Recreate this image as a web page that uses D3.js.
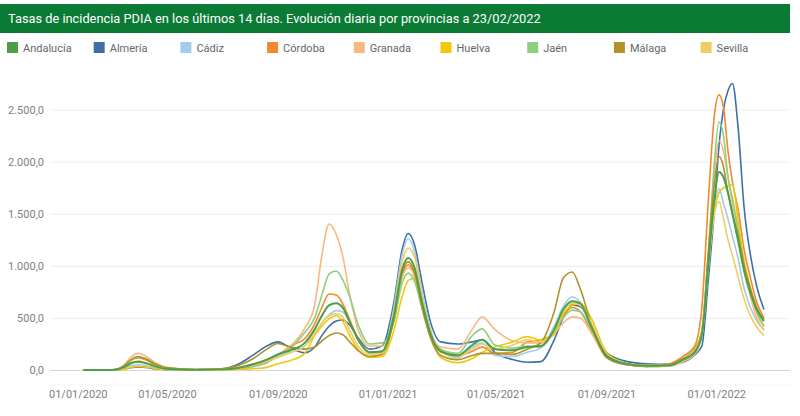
<!DOCTYPE html>
<html>
<head>
<meta charset="utf-8">
<script src="https://cdn.jsdelivr.net/npm/d3@7"></script>
<style>
  body { margin: 0; background: #fff; }
  svg text { font-family: Roboto, "Open Sans", sans-serif; }
</style>
</head>
<body>
<div id="chart"></div>
<script>
"use strict";

// sample dates
const dates = [
  "2020-01-29","2020-03-01","2020-03-15","2020-03-22","2020-03-30","2020-04-08","2020-04-18","2020-05-01","2020-06-01","2020-07-01",
  "2020-07-20","2020-08-05","2020-08-20","2020-09-01","2020-09-15","2020-10-01","2020-10-12","2020-10-20","2020-10-28","2020-11-05",
  "2020-11-12","2020-11-20","2020-11-30","2020-12-12","2020-12-26","2021-01-08","2021-01-17","2021-01-24","2021-01-31","2021-02-08",
  "2021-02-18","2021-03-01","2021-03-20","2021-04-05","2021-04-16","2021-04-30","2021-05-20","2021-06-05","2021-06-20","2021-07-05",
  "2021-07-15","2021-07-25","2021-08-03","2021-08-15","2021-09-01","2021-09-20","2021-10-15","2021-11-10","2021-11-25","2021-12-08",
  "2021-12-16","2021-12-23","2021-12-30","2022-01-04","2022-01-09","2022-01-14","2022-01-19","2022-01-25","2022-02-01","2022-02-08",
  "2022-02-15","2022-02-23"
];

const provinces = ["Andalucía", "Almería", "Cádiz", "Córdoba", "Granada", "Huelva", "Jaén", "Málaga", "Sevilla"];

const andalucia = [0,1,30,65,80,65,35,12,3,6, 22,55,100,150,190,260,390,520,620,640, 600,460,280,170,180,520,960,1075,980,660,
  340,180,140,240,290,200,190,220,230,390, 580,660,640,420,140,65,40,45,100,170, 340,1000,1650,1900,1850,1700,1500,1250,950,740, 580,470];
const almeria = [0,1,10,22,30,25,12,4,2,12, 60,145,230,270,215,165,220,330,420,470, 480,430,300,200,230,650,1150,1310,1200,850,
  450,270,250,270,290,170,100,75,80,290, 500,625,610,440,170,90,60,55,75,145, 230,850,1550,2150,2500,2680,2750,2350,1550,1100, 800,580];
const cadiz = [0,1,15,40,50,40,20,6,2,4, 12,30,70,130,170,230,340,450,530,570, 560,460,280,160,170,600,1100,1260,1130,760,
  380,180,120,220,260,140,130,170,210,420, 610,700,650,400,120,55,35,40,90,180, 330,950,1550,1740,1600,1450,1280,1080,780,600, 470,390];
const cordoba = [0,1,40,95,115,95,50,18,3,6, 15,40,75,140,230,300,440,600,730,720, 640,480,280,170,170,480,900,1010,900,600,
  310,170,140,180,220,160,170,270,290,350, 520,600,560,380,130,60,40,60,130,230, 600,1600,2450,2640,2520,2100,1800,1550,1150,880, 650,500];
const granada = [0,1,55,125,160,130,70,25,4,8, 25,60,100,150,230,400,620,1100,1400,1300, 1100,720,370,230,230,480,880,980,900,620,
  340,220,200,390,510,390,280,260,260,350, 450,510,500,360,120,55,35,40,80,150, 330,1100,1900,2200,2100,1850,1600,1350,950,700, 500,380];
const huelva = [0,1,10,25,35,28,15,5,2,3, 6,12,25,60,90,160,330,420,490,520, 470,330,190,120,130,380,700,860,880,650,
  320,120,70,110,170,220,270,320,290,340, 540,620,640,500,170,70,45,45,100,200, 360,1000,1550,1700,1750,1760,1780,1450,1050,780, 550,420];
const jaen = [0,1,40,90,125,105,60,20,3,5, 15,40,80,140,210,360,500,720,920,950, 870,700,420,250,260,460,830,930,850,600,
  330,200,160,330,395,240,210,230,220,370, 500,575,560,400,130,60,35,40,90,170, 330,1100,2000,2380,2250,1850,1650,1350,1000,750, 560,420];
const malaga = [0,1,45,100,130,105,55,20,4,12, 45,110,200,255,220,200,220,280,330,355, 340,270,180,130,150,500,930,1040,930,620,
  300,140,100,140,160,160,150,200,260,560, 880,940,780,450,120,55,35,50,110,200, 380,1100,1800,2050,1950,1700,1500,1300,1000,780, 600,480];
const sevilla = [0,1,30,70,85,65,35,12,3,5, 18,45,85,120,165,230,350,450,520,540, 510,380,220,150,160,560,1030,1170,1080,720,
  360,170,130,200,250,200,240,290,270,380, 560,640,620,460,150,65,40,45,100,190, 370,1000,1500,1620,1450,1250,1100,900,680,520, 410,330];

const yTicks = [0, 500, 1000, 1500, 2000, 2500];
const xTicks = ["2020-01-01", "2020-05-01", "2020-09-01", "2021-01-01", "2021-05-01", "2021-09-01", "2022-01-01"];
const titleText = "Tasas de incidencia PDIA en los últimos 14 días. Evolución diaria por provincias a 23/02/2022";

const colors = ["#4c9f48", "#3f6fa5", "#a3cbea", "#f08a2c", "#f9b880", "#f2c80f", "#8ecf80", "#b0912a", "#efcd62"];

const msm = {
    width: 800,
    height: 416,
    plotLeft: 50,
    plotRight: 790,
    zeroY: 370,
}

let svgContainer = "";

window.onload = function () {
    svgContainer = d3.select("#chart")
        .append("svg")
        .attr("width", msm.width)
        .attr("height", msm.height);
    drawTitle();
    drawLegend();
    let map = drawAxes();
    plotLines(map);
}

// green header bar with the title
function drawTitle() {
    svgContainer.append("rect")
        .attr("x", 0).attr("y", 4)
        .attr("width", 790).attr("height", 29)
        .attr("fill", "#0b7a34");
    svgContainer.append("text")
        .attr("x", 8).attr("y", 23)
        .attr("fill", "#fff")
        .style("font-size", "12.8px")
        .text(titleText);
}

function drawLegend() {
    let legend = svgContainer.append("g");
    let item = legend.selectAll("g")
        .data(provinces)
        .enter()
        .append("g")
        .attr("transform", (d, i) => "translate(" + (7 + i * 86.7) + ",42)");
    item.append("rect")
        .attr("width", 11).attr("height", 11)
        .attr("fill", (d, i) => colors[i]);
    item.append("text")
        .attr("x", 16).attr("y", 10)
        .attr("fill", "#666")
        .style("font-size", "11px")
        .text(d => d);
}

// scales, gridlines and tick labels
function drawAxes() {
    let parse = d3.timeParse("%Y-%m-%d");
    let xScale = d3.scaleTime()
        .domain([parse("2020-01-01"), parse("2022-02-23")])
        .range([58, 764]);
    let yScale = d3.scaleLinear()
        .domain([0, 2500])
        .range([msm.zeroY, 109.5]);

    let es = d3.formatLocale({ decimal: ",", thousands: ".", grouping: [3], currency: ["", "€"] });

    // faint frame line under the plot
    svgContainer.append("line")
        .attr("x1", msm.plotLeft).attr("x2", msm.plotRight)
        .attr("y1", 385).attr("y2", 385)
        .attr("stroke", "#f3f3f3");

    let yAxis = d3.axisLeft(yScale)
        .tickValues(yTicks)
        .tickSize(-(msm.plotRight - msm.plotLeft))
        .tickPadding(6)
        .tickFormat(es.format(",.1f"));
    let gy = svgContainer.append("g")
        .attr("transform", "translate(" + msm.plotLeft + ",0)")
        .call(yAxis);
    gy.select(".domain").remove();
    gy.selectAll("line").attr("stroke", (d) => d === 0 ? "#d6d6d6" : "#ececec");
    gy.selectAll("text").attr("fill", "#7f7f7f").style("font-size", "11px");

    let xAxis = d3.axisBottom(xScale)
        .tickValues(xTicks.map(parse))
        .tickSize(0)
        .tickPadding(0)
        .tickFormat(d3.timeFormat("%d/%m/%Y"));
    let gx = svgContainer.append("g")
        .attr("transform", "translate(0,390)")
        .call(xAxis);
    gx.select(".domain").remove();
    gx.selectAll("text")
        .attr("fill", "#7f7f7f")
        .style("font-size", "11px")
        .attr("dy", "0.71em")
        .each(function () {
            // keep the first label inside the plot area
            let tick = d3.select(this.parentNode);
            let tx = +tick.attr("transform").match(/translate\(([-\d.]+)/)[1];
            let w = this.getComputedTextLength();
            if (tx - w / 2 < msm.plotLeft - 1) {
                d3.select(this).attr("x", msm.plotLeft - 1 + w / 2 - tx);
            }
        });

    return { xScale: xScale, yScale: yScale, parse: parse };
}

function plotLines(map) {
    // provinces first, Andalucía drawn on top
    let series = [almeria, cadiz, cordoba, granada, huelva, jaen, malaga, sevilla, andalucia];
    let idx = [1, 2, 3, 4, 5, 6, 7, 8, 0];
    let parsed = dates.map(map.parse);

    let line = d3.line()
        .x((d, i) => map.xScale(parsed[i]))
        .y(d => map.yScale(d))
        .curve(d3.curveMonotoneX);

    svgContainer.append("g")
        .selectAll("path")
        .data(series)
        .enter()
        .append("path")
        .attr("d", line)
        .attr("fill", "none")
        .attr("stroke", (d, i) => colors[idx[i]])
        .attr("stroke-width", (d, i) => idx[i] === 0 ? 2 : 1.6)
        .attr("stroke-linejoin", "round");
}
</script>
</body>
</html>
